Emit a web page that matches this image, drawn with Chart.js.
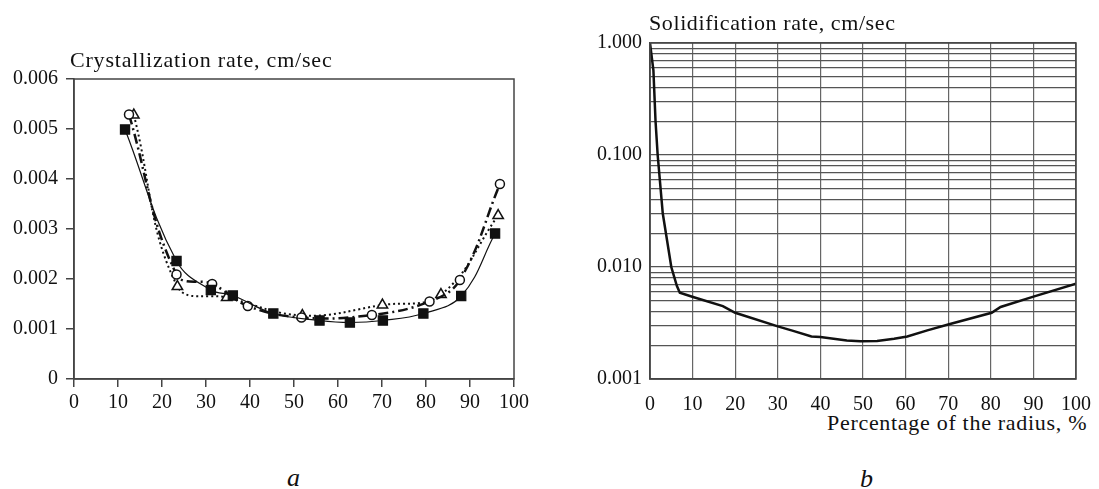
<!DOCTYPE html>
<html>
<head>
<meta charset="utf-8">
<script src="https://cdn.jsdelivr.net/npm/chart.js@4.4.1/dist/chart.umd.min.js"></script>
<style>
  html, body { margin: 0; background: #fff; width: 1099px; height: 489px; position: relative; overflow: hidden; }
  canvas { position: absolute; }
  .txt { position: absolute; font-family: "Liberation Serif", serif; color: #111; white-space: nowrap; line-height: 1; }
</style>
</head>
<body>
<canvas id="crystChart" width="545" height="362" style="left:0;top:58px"></canvas>
<canvas id="solidChart" width="546" height="388" style="left:560px;top:22px"></canvas>
<div class="txt" style="left:70px;top:49px;font-size:22px;letter-spacing:0.8px">Crystallization rate, cm/sec</div>
<div class="txt" style="left:649px;top:12px;font-size:22px;letter-spacing:0.6px">Solidification rate, cm/sec</div>
<div class="txt" style="left:827px;top:412px;font-size:22px;letter-spacing:0.7px">Percentage of the radius, %</div>
<div class="txt" style="left:287px;top:465px;font-size:26px;font-style:italic">a</div>
<div class="txt" style="left:860px;top:466px;font-size:26px;font-style:italic">b</div>
<script>
// Panel a: crystallization rate, three series
const squaresX = [11.6, 23.3, 31.1, 36.1, 45.3, 55.8, 62.7, 70.2, 79.4, 88.0, 95.7];
const squaresY = [0.00499, 0.00236, 0.00178, 0.00167, 0.00131, 0.00117, 0.00113, 0.00117, 0.00131, 0.00166, 0.00291];
const circlesX = [12.5, 23.3, 31.4, 39.5, 51.7, 67.7, 80.8, 87.7, 96.8];
const circlesY = [0.00529, 0.00209, 0.00190, 0.00146, 0.00123, 0.00128, 0.00155, 0.00198, 0.00390];
const trianglesX = [13.6, 23.5, 34.7, 51.9, 70.1, 83.4, 96.4];
const trianglesY = [0.00528, 0.00185, 0.00163, 0.00127, 0.00148, 0.00169, 0.00327];

// Panel b: solidification rate (log scale)
const radiusX = [0, 0.8, 1.3, 1.8, 3.0, 5.0, 6.3, 7.0, 10.1, 17.1, 20, 30, 33.6, 37.9, 40, 46.2, 49.4, 53.3, 57.3, 60.4, 65.1, 70.2, 80.2, 82.3, 90.2, 100];
const solidRate = [1.0, 0.57, 0.2, 0.1, 0.03, 0.01, 0.0068, 0.0059, 0.0054, 0.00447, 0.0039, 0.00295, 0.00269, 0.0024, 0.00237, 0.00221, 0.00217, 0.00218, 0.00229, 0.0024, 0.00272, 0.00308, 0.0039, 0.0044, 0.00547, 0.0071];

const logDecades = [0.001, 0.01, 0.1];
const logLabels = ['0.001', '0.010', '0.100', '1.000'];

const FONT = { family: 'Liberation Serif', size: 20 };

const toPoints = (xs, ys) => xs.map((x, i) => ({ x: x, y: ys[i] }));

// draws the box around the plot area
const framePlugin = {
  id: 'frame',
  afterDraw(chart, args, opts) {
    const a = chart.chartArea;
    const ctx = chart.ctx;
    ctx.save();
    ctx.strokeStyle = opts.color || '#444';
    ctx.lineWidth = opts.width || 1.5;
    ctx.strokeRect(a.left, a.top, a.right - a.left, a.bottom - a.top);
    ctx.restore();
  }
};

Chart.defaults.color = '#111';

new Chart(document.getElementById('crystChart'), {
  type: 'line',
  data: {
    datasets: [
      {
        label: 'squares',
        data: toPoints(squaresX, squaresY),
        borderColor: '#111',
        borderWidth: 1.2,
        pointStyle: 'rect',
        pointRadius: 6.5,
        pointBackgroundColor: '#111',
        pointBorderColor: '#111',
        tension: 0.4
      },
      {
        label: 'circles',
        data: toPoints(circlesX, circlesY),
        borderColor: '#111',
        borderWidth: 2.5,
        borderDash: [10, 4, 2, 4],
        pointStyle: 'circle',
        pointRadius: 4.5,
        pointBorderWidth: 1.5,
        pointBackgroundColor: '#fff',
        pointBorderColor: '#111',
        tension: 0.4
      },
      {
        label: 'triangles',
        data: toPoints(trianglesX, trianglesY),
        borderColor: '#111',
        borderWidth: 2,
        borderDash: [2, 3],
        pointStyle: 'triangle',
        pointRadius: 6,
        pointBorderWidth: 1.5,
        pointBackgroundColor: '#fff',
        pointBorderColor: '#111',
        tension: 0.4
      }
    ]
  },
  options: {
    responsive: false,
    animation: false,
    devicePixelRatio: 1,
    layout: { padding: { top: 21, right: 31, left: 0, bottom: 0 } },
    plugins: { legend: { display: false }, tooltip: { enabled: false }, frame: { color: '#444', width: 1.5 } },
    scales: {
      x: {
        type: 'linear',
        min: 0, max: 100,
        ticks: { stepSize: 10, font: FONT, padding: 4, color: '#111' },
        grid: { drawOnChartArea: false, drawTicks: true, tickLength: 8, color: '#444', lineWidth: 1.5 },
        border: { display: true, color: '#444', width: 1.5 },
        afterFit: (s) => { s.height = 41; }
      },
      y: {
        min: 0, max: 0.006,
        ticks: {
          stepSize: 0.0005,
          font: FONT,
          padding: 8,
          color: '#111',
          callback: (v) => {
            const k = v * 1000;
            if (Math.abs(k - Math.round(k)) > 1e-6) return '';
            return v === 0 ? '0' : v.toFixed(3);
          }
        },
        grid: { drawOnChartArea: false, drawTicks: true, tickLength: 8, color: '#444', lineWidth: 1.5 },
        border: { display: true, color: '#444', width: 1.5 },
        afterFit: (s) => { s.width = 74; }
      }
    }
  },
  plugins: [framePlugin]
});

new Chart(document.getElementById('solidChart'), {
  type: 'line',
  data: {
    datasets: [{
      label: 'solidification',
      data: toPoints(radiusX, solidRate),
      borderColor: '#111',
      borderWidth: 2.5,
      pointRadius: 0,
      tension: 0
    }]
  },
  options: {
    responsive: false,
    animation: false,
    devicePixelRatio: 1,
    layout: { padding: { top: 21, right: 30, left: 0, bottom: 0 } },
    plugins: { legend: { display: false }, tooltip: { enabled: false }, frame: { color: '#444', width: 1.5 } },
    scales: {
      x: {
        type: 'linear',
        min: 0, max: 100,
        ticks: { stepSize: 10, font: FONT, padding: 14, color: '#111' },
        grid: { drawTicks: false, color: '#666', lineWidth: 1.2 },
        border: { display: true, color: '#444', width: 1.5 },
        afterFit: (s) => { s.height = 31; }
      },
      y: {
        type: 'logarithmic',
        min: 0.001, max: 1,
        afterBuildTicks: (s) => {
          const t = [];
          logDecades.forEach(d => { for (let m = 1; m < 10; m++) t.push({ value: d * m }); });
          t.push({ value: 1 });
          s.ticks = t;
        },
        ticks: {
          font: FONT,
          padding: 8,
          color: '#111',
          autoSkip: false,
          callback: (v) => {
            const e = Math.log10(v);
            if (Math.abs(e - Math.round(e)) > 1e-9) return '';
            return logLabels[Math.round(e) + 3];
          }
        },
        grid: { drawTicks: false, color: '#555', lineWidth: 1.2 },
        border: { display: true, color: '#444', width: 1.5 },
        afterFit: (s) => { s.width = 90; }
      }
    }
  },
  plugins: [framePlugin]
});
</script>
</body>
</html>
